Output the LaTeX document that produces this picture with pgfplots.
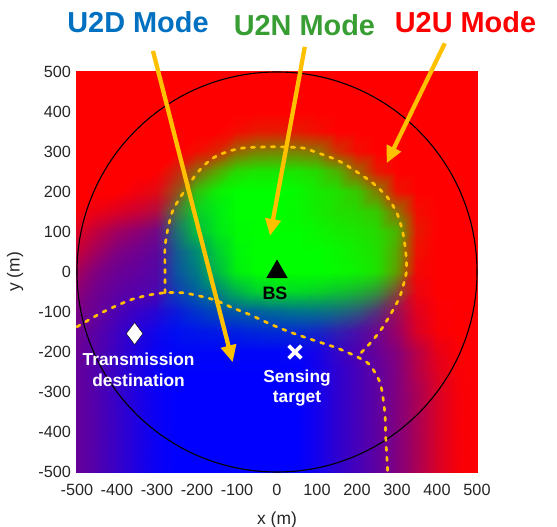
\documentclass[border=0pt]{standalone}
\usepackage{fontspec}
\setmainfont{Liberation Sans}
\usepackage{pgfplots}
\pgfplotsset{compat=1.18}
\usetikzlibrary{arrows.meta}
\definecolor{u2d}{RGB}{0,112,192}
\definecolor{u2n}{RGB}{56,158,52}
\definecolor{gold}{RGB}{255,192,0}
\definecolor{ticklabel}{RGB}{38,38,38}
\begin{document}
\begin{tikzpicture}
\begin{axis}[
  at={(0,0)}, anchor=south west,
  scale only axis, width=400bp, height=400bp,
  xmin=-500, xmax=500, ymin=-500, ymax=500,
  xtick={-500,-400,...,500}, ytick={-500,-400,...,500},
  axis line style={draw=none}, major tick length=0pt,
  /pgf/number format/assume math mode=true,
  tick label style={font=\fontsize{16.3}{18}\selectfont, text=ticklabel},
  xticklabel style={yshift=-8.5bp},
  yticklabel style={xshift=-2.5bp},
  xlabel={x (m)}, ylabel={y (m)},
  every axis x label/.style={at={(axis description cs:0.5,-0.12)}, anchor=center, font=\fontsize{17.5}{20}\selectfont, text=ticklabel},
  every axis y label/.style={at={(axis description cs:-0.155,0.5)}, anchor=center, rotate=90, font=\fontsize{17.5}{20}\selectfont, text=ticklabel},
  clip=false,
]
\addplot[surf, shader=interp, mesh/rows=21, mesh/cols=21,
  mesh/color input=explicit, point meta=explicit symbolic]
table[meta=c] {
x y c
-500 500 rgb=1,0,0
-450 500 rgb=1,0,0
-400 500 rgb=1,0,0
-350 500 rgb=1,0,0
-300 500 rgb=1,0,0
-250 500 rgb=1,0,0
-200 500 rgb=1,0,0
-150 500 rgb=1,0,0
-100 500 rgb=1,0,0
-50 500 rgb=1,0,0
0 500 rgb=1,0,0
50 500 rgb=1,0,0
100 500 rgb=1,0,0
150 500 rgb=1,0,0
200 500 rgb=1,0,0
250 500 rgb=1,0,0
300 500 rgb=1,0,0
350 500 rgb=1,0,0
400 500 rgb=1,0,0
450 500 rgb=1,0,0
500 500 rgb=1,0,0
-500 450 rgb=1,0,0
-450 450 rgb=1,0,0
-400 450 rgb=1,0,0
-350 450 rgb=1,0,0
-300 450 rgb=1,0,0
-250 450 rgb=1,0,0
-200 450 rgb=1,0,0
-150 450 rgb=1,0,0
-100 450 rgb=1,0,0
-50 450 rgb=1,0,0
0 450 rgb=1,0,0
50 450 rgb=1,0,0
100 450 rgb=1,0,0
150 450 rgb=1,0,0
200 450 rgb=1,0,0
250 450 rgb=1,0,0
300 450 rgb=1,0,0
350 450 rgb=1,0,0
400 450 rgb=1,0,0
450 450 rgb=1,0,0
500 450 rgb=1,0,0
-500 400 rgb=1,0,0
-450 400 rgb=1,0,0
-400 400 rgb=1,0,0
-350 400 rgb=1,0,0
-300 400 rgb=1,0,0
-250 400 rgb=1,0,0
-200 400 rgb=1,0,0
-150 400 rgb=1,0,0
-100 400 rgb=1,0,0
-50 400 rgb=1,0,0
0 400 rgb=1,0,0
50 400 rgb=1,0,0
100 400 rgb=1,0,0
150 400 rgb=1,0,0
200 400 rgb=1,0,0
250 400 rgb=1,0,0
300 400 rgb=1,0,0
350 400 rgb=1,0,0
400 400 rgb=1,0,0
450 400 rgb=1,0,0
500 400 rgb=1,0,0
-500 350 rgb=1,0,0
-450 350 rgb=1,0,0
-400 350 rgb=1,0,0
-350 350 rgb=1,0,0
-300 350 rgb=1,0,0
-250 350 rgb=1,0,0
-200 350 rgb=1,0,0
-150 350 rgb=1,0,0
-100 350 rgb=0.95,0.05,0
-50 350 rgb=0.9,0.1,0
0 350 rgb=0.9,0.1,0
50 350 rgb=0.9,0.1,0
100 350 rgb=0.95,0.05,0
150 350 rgb=1,0,0
200 350 rgb=1,0,0
250 350 rgb=1,0,0
300 350 rgb=1,0,0
350 350 rgb=1,0,0
400 350 rgb=1,0,0
450 350 rgb=1,0,0
500 350 rgb=1,0,0
-500 300 rgb=1,0,0
-450 300 rgb=1,0,0
-400 300 rgb=1,0,0
-350 300 rgb=1,0,0
-300 300 rgb=1,0,0
-250 300 rgb=1,0,0
-200 300 rgb=0.95,0.05,0
-150 300 rgb=0.85,0.15,0
-100 300 rgb=0.6,0.4,0
-50 300 rgb=0.5,0.5,0
0 300 rgb=0.48,0.52,0
50 300 rgb=0.5,0.5,0
100 300 rgb=0.55,0.45,0
150 300 rgb=0.8,0.2,0
200 300 rgb=0.95,0.05,0
250 300 rgb=1,0,0
300 300 rgb=1,0,0
350 300 rgb=1,0,0
400 300 rgb=1,0,0
450 300 rgb=1,0,0
500 300 rgb=1,0,0
-500 250 rgb=1,0,0
-450 250 rgb=1,0,0
-400 250 rgb=1,0,0
-350 250 rgb=1,0,0
-300 250 rgb=1,0,0
-250 250 rgb=0.8,0.15,0.05
-200 250 rgb=0.55,0.4,0.05
-150 250 rgb=0.35,0.65,0
-100 250 rgb=0.15,0.85,0
-50 250 rgb=0.1,0.9,0
0 250 rgb=0.1,0.9,0
50 250 rgb=0.1,0.9,0
100 250 rgb=0.15,0.85,0
150 250 rgb=0.3,0.7,0
200 250 rgb=0.6,0.4,0
250 250 rgb=0.9,0.1,0
300 250 rgb=1,0,0
350 250 rgb=1,0,0
400 250 rgb=1,0,0
450 250 rgb=1,0,0
500 250 rgb=1,0,0
-500 200 rgb=1,0,0
-450 200 rgb=1,0,0
-400 200 rgb=1,0,0
-350 200 rgb=0.95,0,0.05
-300 200 rgb=0.88,0.04,0.08
-250 200 rgb=0.6,0.3,0.1
-200 200 rgb=0.2,0.75,0.05
-150 200 rgb=0.05,0.93,0.02
-100 200 rgb=0,1,0
-50 200 rgb=0,1,0
0 200 rgb=0,1,0
50 200 rgb=0.02,0.98,0
100 200 rgb=0.08,0.92,0
150 200 rgb=0.12,0.88,0
200 200 rgb=0.22,0.78,0
250 200 rgb=0.5,0.5,0
300 200 rgb=0.92,0.08,0
350 200 rgb=1,0,0
400 200 rgb=1,0,0
450 200 rgb=1,0,0
500 200 rgb=1,0,0
-500 150 rgb=0.97,0,0.03
-450 150 rgb=0.92,0,0.08
-400 150 rgb=0.86,0,0.14
-350 150 rgb=0.8,0,0.2
-300 150 rgb=0.7,0.05,0.25
-250 150 rgb=0.3,0.45,0.25
-200 150 rgb=0.05,0.8,0.15
-150 150 rgb=0,0.92,0.08
-100 150 rgb=0,1,0
-50 150 rgb=0,1,0
0 150 rgb=0,1,0
50 150 rgb=0.02,0.98,0
100 150 rgb=0.07,0.93,0
150 150 rgb=0.12,0.88,0
200 150 rgb=0.15,0.85,0
250 150 rgb=0.22,0.78,0
300 150 rgb=0.55,0.45,0
350 150 rgb=0.95,0.05,0
400 150 rgb=1,0,0
450 150 rgb=1,0,0
500 150 rgb=1,0,0
-500 100 rgb=0.87,0,0.13
-450 100 rgb=0.75,0,0.25
-400 100 rgb=0.63,0,0.37
-350 100 rgb=0.55,0,0.45
-300 100 rgb=0.45,0.03,0.52
-250 100 rgb=0.12,0.43,0.45
-200 100 rgb=0.02,0.73,0.25
-150 100 rgb=0,0.9,0.1
-100 100 rgb=0,0.98,0.02
-50 100 rgb=0,1,0
0 100 rgb=0,1,0
50 100 rgb=0,1,0
100 100 rgb=0.03,0.97,0
150 100 rgb=0.07,0.93,0
200 100 rgb=0.1,0.9,0
250 100 rgb=0.15,0.85,0
300 100 rgb=0.3,0.7,0
350 100 rgb=0.9,0.1,0
400 100 rgb=1,0,0
450 100 rgb=1,0,0
500 100 rgb=1,0,0
-500 50 rgb=0.78,0,0.22
-450 50 rgb=0.63,0,0.37
-400 50 rgb=0.5,0,0.5
-350 50 rgb=0.44,0,0.56
-300 50 rgb=0.37,0.02,0.61
-250 50 rgb=0.08,0.35,0.57
-200 50 rgb=0,0.55,0.45
-150 50 rgb=0,0.8,0.2
-100 50 rgb=0,0.96,0.04
-50 50 rgb=0,1,0
0 50 rgb=0,1,0
50 50 rgb=0,1,0
100 50 rgb=0,1,0
150 50 rgb=0.03,0.97,0
200 50 rgb=0.07,0.93,0
250 50 rgb=0.13,0.87,0
300 50 rgb=0.35,0.65,0
350 50 rgb=0.93,0.07,0
400 50 rgb=1,0,0
450 50 rgb=1,0,0
500 50 rgb=1,0,0
-500 0 rgb=0.65,0,0.35
-450 0 rgb=0.5,0,0.5
-400 0 rgb=0.42,0,0.58
-350 0 rgb=0.38,0,0.62
-300 0 rgb=0.33,0.02,0.65
-250 0 rgb=0.05,0.32,0.63
-200 0 rgb=0,0.48,0.52
-150 0 rgb=0,0.72,0.28
-100 0 rgb=0,0.94,0.06
-50 0 rgb=0,1,0
0 0 rgb=0,1,0
50 0 rgb=0,1,0
100 0 rgb=0,1,0
150 0 rgb=0.02,0.98,0
200 0 rgb=0.05,0.95,0
250 0 rgb=0.12,0.88,0
300 0 rgb=0.38,0.62,0
350 0 rgb=0.95,0.03,0.02
400 0 rgb=1,0,0
450 0 rgb=1,0,0
500 0 rgb=1,0,0
-500 -50 rgb=0.55,0,0.45
-450 -50 rgb=0.44,0,0.56
-400 -50 rgb=0.37,0,0.63
-350 -50 rgb=0.33,0,0.67
-300 -50 rgb=0.3,0.02,0.68
-250 -50 rgb=0.06,0.24,0.7
-200 -50 rgb=0,0.38,0.62
-150 -50 rgb=0,0.5,0.5
-100 -50 rgb=0,0.7,0.3
-50 -50 rgb=0,0.82,0.18
0 -50 rgb=0,0.86,0.14
50 -50 rgb=0,0.86,0.14
100 -50 rgb=0.03,0.82,0.15
150 -50 rgb=0.05,0.77,0.18
200 -50 rgb=0.1,0.7,0.2
250 -50 rgb=0.2,0.58,0.22
300 -50 rgb=0.5,0.3,0.2
350 -50 rgb=0.92,0.02,0.06
400 -50 rgb=1,0,0
450 -50 rgb=1,0,0
500 -50 rgb=1,0,0
-500 -100 rgb=0.48,0,0.52
-450 -100 rgb=0.4,0,0.6
-400 -100 rgb=0.3,0,0.7
-350 -100 rgb=0.22,0,0.78
-300 -100 rgb=0.15,0.02,0.83
-250 -100 rgb=0.04,0.1,0.86
-200 -100 rgb=0,0.2,0.8
-150 -100 rgb=0,0.28,0.72
-100 -100 rgb=0,0.35,0.65
-50 -100 rgb=0,0.38,0.62
0 -100 rgb=0,0.42,0.58
50 -100 rgb=0,0.45,0.55
100 -100 rgb=0.02,0.45,0.53
150 -100 rgb=0.08,0.42,0.5
200 -100 rgb=0.17,0.35,0.48
250 -100 rgb=0.33,0.2,0.47
300 -100 rgb=0.6,0.06,0.34
350 -100 rgb=0.88,0,0.12
400 -100 rgb=0.98,0,0.02
450 -100 rgb=1,0,0
500 -100 rgb=1,0,0
-500 -150 rgb=0.44,0,0.56
-450 -150 rgb=0.35,0,0.65
-400 -150 rgb=0.25,0,0.75
-350 -150 rgb=0.14,0,0.86
-300 -150 rgb=0.06,0.02,0.92
-250 -150 rgb=0,0.05,0.95
-200 -150 rgb=0,0.08,0.92
-150 -150 rgb=0,0.1,0.9
-100 -150 rgb=0,0.12,0.88
-50 -150 rgb=0,0.15,0.85
0 -150 rgb=0,0.17,0.83
50 -150 rgb=0.02,0.17,0.81
100 -150 rgb=0.07,0.15,0.78
150 -150 rgb=0.18,0.12,0.7
200 -150 rgb=0.28,0.06,0.66
250 -150 rgb=0.42,0.02,0.56
300 -150 rgb=0.6,0,0.4
350 -150 rgb=0.85,0,0.15
400 -150 rgb=0.97,0,0.03
450 -150 rgb=1,0,0
500 -150 rgb=1,0,0
-500 -200 rgb=0.42,0,0.58
-450 -200 rgb=0.33,0,0.67
-400 -200 rgb=0.23,0,0.77
-350 -200 rgb=0.12,0,0.88
-300 -200 rgb=0.04,0,0.96
-250 -200 rgb=0,0.02,0.98
-200 -200 rgb=0,0.02,0.98
-150 -200 rgb=0,0.02,0.98
-100 -200 rgb=0,0.02,0.98
-50 -200 rgb=0,0.02,0.98
0 -200 rgb=0,0.02,0.98
50 -200 rgb=0.02,0.02,0.96
100 -200 rgb=0.08,0.01,0.91
150 -200 rgb=0.2,0.02,0.78
200 -200 rgb=0.3,0,0.7
250 -200 rgb=0.4,0,0.6
300 -200 rgb=0.52,0,0.48
350 -200 rgb=0.72,0,0.28
400 -200 rgb=0.9,0,0.1
450 -200 rgb=0.98,0,0.02
500 -200 rgb=1,0,0
-500 -250 rgb=0.4,0,0.6
-450 -250 rgb=0.32,0,0.68
-400 -250 rgb=0.22,0,0.78
-350 -250 rgb=0.12,0,0.88
-300 -250 rgb=0.04,0,0.96
-250 -250 rgb=0,0,1
-200 -250 rgb=0,0,1
-150 -250 rgb=0,0,1
-100 -250 rgb=0,0,1
-50 -250 rgb=0,0,1
0 -250 rgb=0,0,1
50 -250 rgb=0,0,1
100 -250 rgb=0.07,0,0.93
150 -250 rgb=0.18,0,0.82
200 -250 rgb=0.27,0,0.73
250 -250 rgb=0.37,0,0.63
300 -250 rgb=0.5,0,0.5
350 -250 rgb=0.7,0,0.3
400 -250 rgb=0.87,0,0.13
450 -250 rgb=0.97,0,0.03
500 -250 rgb=1,0,0
-500 -300 rgb=0.4,0,0.6
-450 -300 rgb=0.32,0,0.68
-400 -300 rgb=0.22,0,0.78
-350 -300 rgb=0.12,0,0.88
-300 -300 rgb=0.04,0,0.96
-250 -300 rgb=0,0,1
-200 -300 rgb=0,0,1
-150 -300 rgb=0,0,1
-100 -300 rgb=0,0,1
-50 -300 rgb=0,0,1
0 -300 rgb=0,0,1
50 -300 rgb=0,0,1
100 -300 rgb=0.07,0,0.93
150 -300 rgb=0.18,0,0.82
200 -300 rgb=0.27,0,0.73
250 -300 rgb=0.37,0,0.63
300 -300 rgb=0.5,0,0.5
350 -300 rgb=0.66,0,0.34
400 -300 rgb=0.84,0,0.16
450 -300 rgb=0.96,0,0.04
500 -300 rgb=1,0,0
-500 -350 rgb=0.4,0,0.6
-450 -350 rgb=0.32,0,0.68
-400 -350 rgb=0.22,0,0.78
-350 -350 rgb=0.12,0,0.88
-300 -350 rgb=0.04,0,0.96
-250 -350 rgb=0,0,1
-200 -350 rgb=0,0,1
-150 -350 rgb=0,0,1
-100 -350 rgb=0,0,1
-50 -350 rgb=0,0,1
0 -350 rgb=0,0,1
50 -350 rgb=0,0,1
100 -350 rgb=0.07,0,0.93
150 -350 rgb=0.18,0,0.82
200 -350 rgb=0.27,0,0.73
250 -350 rgb=0.37,0,0.63
300 -350 rgb=0.5,0,0.5
350 -350 rgb=0.66,0,0.34
400 -350 rgb=0.84,0,0.16
450 -350 rgb=0.96,0,0.04
500 -350 rgb=1,0,0
-500 -400 rgb=0.4,0,0.6
-450 -400 rgb=0.32,0,0.68
-400 -400 rgb=0.22,0,0.78
-350 -400 rgb=0.12,0,0.88
-300 -400 rgb=0.04,0,0.96
-250 -400 rgb=0,0,1
-200 -400 rgb=0,0,1
-150 -400 rgb=0,0,1
-100 -400 rgb=0,0,1
-50 -400 rgb=0,0,1
0 -400 rgb=0,0,1
50 -400 rgb=0,0,1
100 -400 rgb=0.07,0,0.93
150 -400 rgb=0.18,0,0.82
200 -400 rgb=0.27,0,0.73
250 -400 rgb=0.37,0,0.63
300 -400 rgb=0.5,0,0.5
350 -400 rgb=0.66,0,0.34
400 -400 rgb=0.84,0,0.16
450 -400 rgb=0.96,0,0.04
500 -400 rgb=1,0,0
-500 -450 rgb=0.4,0,0.6
-450 -450 rgb=0.32,0,0.68
-400 -450 rgb=0.22,0,0.78
-350 -450 rgb=0.12,0,0.88
-300 -450 rgb=0.04,0,0.96
-250 -450 rgb=0,0,1
-200 -450 rgb=0,0,1
-150 -450 rgb=0,0,1
-100 -450 rgb=0,0,1
-50 -450 rgb=0,0,1
0 -450 rgb=0,0,1
50 -450 rgb=0,0,1
100 -450 rgb=0.07,0,0.93
150 -450 rgb=0.18,0,0.82
200 -450 rgb=0.27,0,0.73
250 -450 rgb=0.37,0,0.63
300 -450 rgb=0.5,0,0.5
350 -450 rgb=0.66,0,0.34
400 -450 rgb=0.84,0,0.16
450 -450 rgb=0.96,0,0.04
500 -450 rgb=1,0,0
-500 -500 rgb=0.4,0,0.6
-450 -500 rgb=0.32,0,0.68
-400 -500 rgb=0.22,0,0.78
-350 -500 rgb=0.12,0,0.88
-300 -500 rgb=0.04,0,0.96
-250 -500 rgb=0,0,1
-200 -500 rgb=0,0,1
-150 -500 rgb=0,0,1
-100 -500 rgb=0,0,1
-50 -500 rgb=0,0,1
0 -500 rgb=0,0,1
50 -500 rgb=0,0,1
100 -500 rgb=0.07,0,0.93
150 -500 rgb=0.18,0,0.82
200 -500 rgb=0.27,0,0.73
250 -500 rgb=0.37,0,0.63
300 -500 rgb=0.5,0,0.5
350 -500 rgb=0.66,0,0.34
400 -500 rgb=0.84,0,0.16
450 -500 rgb=0.96,0,0.04
500 -500 rgb=1,0,0
};
% big circle
\draw[black, line width=1.1bp] (axis cs:0,0) circle [radius=500];
% decision boundaries
\addplot[gold, line width=2.7bp, line cap=round, dash pattern=on 3.3bp off 6.7bp, smooth, tension=0.45] coordinates {
(-280,-52) (-280,0) (-280,62) (-272,112) (-260,155) (-235,197) (-200,247) (-167,280) (-135,297) (-85,310) (0,313) (65,310) (90,302) (150,280) (200,250) (240,222) (275,188) (300,147) (315,97) (322,47) (324,5) (318,-25) (307,-62) (290,-95) (265,-137) (240,-170) (215,-197) (200,-212)
};
\addplot[gold, line width=2.7bp, line cap=round, dash pattern=on 3.3bp off 6.7bp, smooth, tension=0.45] coordinates {
(-500,-137) (-435,-100) (-367,-70) (-317,-57) (-280,-52) (-235,-52) (-185,-62) (-150,-72) (-110,-90) (-67,-107) (-17,-130) (32,-150) (90,-170) (150,-190) (200,-212) (232,-232) (257,-275) (265,-315) (270,-357) (272,-415) (277,-505)
};
% arrows
\addplot[gold, line width=4.3bp, -{Triangle[length=17bp, width=15bp]}] coordinates {(-310,552.5) (-110.75,-225.75)};
\addplot[gold, line width=4.3bp, -{Triangle[length=17bp, width=15bp]}] coordinates {(69.5,562.75) (-17.5,90)};
\addplot[gold, line width=4.3bp, -{Triangle[length=17bp, width=15bp]}] coordinates {(419.5,571.75) (274,271.75)};
% markers
\addplot[only marks, mark=triangle*, mark size=12bp, mark options={fill=black, draw=none}] coordinates {(0,0)};
\addplot[only marks, mark=diamond*, mark size=11bp, mark options={fill=white, draw=none}] coordinates {(-356,-154)};
\addplot[only marks, mark=x, mark size=9bp, mark options={draw=white, line width=3.8bp}] coordinates {(45,-200)};
% texts
\node[inner sep=0pt, font=\fontsize{18}{20}\selectfont\bfseries, text=black] at (axis cs:-5,-53) {BS};
\node[inner sep=0pt, align=center, font=\fontsize{17.4}{20.5}\selectfont\bfseries, text=white] at (axis cs:-346,-245) {Transmission\\destination};
\node[inner sep=0pt, align=center, font=\fontsize{17.4}{20}\selectfont\bfseries, text=white] at (axis cs:50,-289) {Sensing\\target};
\node[inner sep=0pt, font=\fontsize{29}{32}\selectfont\bfseries, text=u2d] at (axis cs:-347.5,624.7) {U2D Mode};
\node[inner sep=0pt, font=\fontsize{29}{32}\selectfont\bfseries, text=u2n] at (axis cs:68.5,615.8) {U2N Mode};
\node[inner sep=0pt, font=\fontsize{29}{32}\selectfont\bfseries, text=red] at (axis cs:471.25,624.7) {U2U Mode};
\end{axis}
\pgfresetboundingbox
\useasboundingbox (-77bp,-55bp) rectangle (480bp,472bp);
\end{tikzpicture}
\end{document}
